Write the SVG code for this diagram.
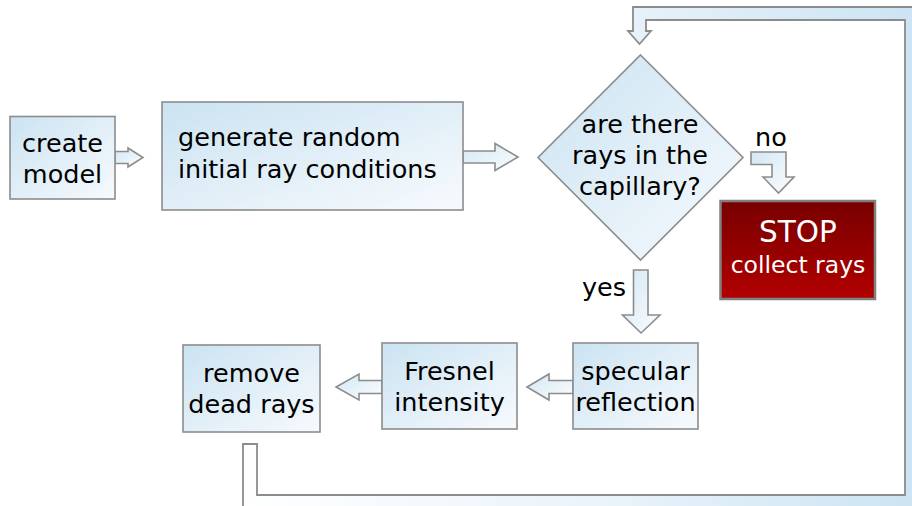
<svg xmlns="http://www.w3.org/2000/svg" width="912" height="506" viewBox="0 0 912 506">
<defs>
<linearGradient id="gBox" x1="0" y1="0" x2="1" y2="1">
<stop offset="0" stop-color="#cbe3f2"/>
<stop offset="1" stop-color="#f7fafd"/>
</linearGradient>
<linearGradient id="gArrow" x1="0" y1="0" x2="1" y2="1">
<stop offset="0" stop-color="#d3e7f4"/>
<stop offset="1" stop-color="#fbfdfe"/>
</linearGradient>
<linearGradient id="gLoop" gradientUnits="userSpaceOnUse" x1="243" y1="0" x2="912" y2="0">
<stop offset="0" stop-color="#ffffff"/>
<stop offset="0.55" stop-color="#e9f3fa"/>
<stop offset="1" stop-color="#cce4f3"/>
</linearGradient>
<linearGradient id="gStop" x1="0" y1="0" x2="0" y2="1">
<stop offset="0" stop-color="#780000"/>
<stop offset="1" stop-color="#b20000"/>
</linearGradient>
<style>
.box{fill:url(#gBox);stroke:#8c8c8c;stroke-width:1.6}
.arr{fill:url(#gArrow);stroke:#8c8c8c;stroke-width:1.6;stroke-linejoin:miter}
.loop{fill:url(#gLoop);stroke:#8c8c8c;stroke-width:1.8}
.t{font-family:"DejaVu Sans",sans-serif;font-size:25.5px;fill:#000}
.c{text-anchor:middle}
.stop{fill:url(#gStop);stroke:#808080;stroke-width:2.5}
.w{font-family:"DejaVu Sans",sans-serif;fill:#fff;text-anchor:middle}
</style>
</defs>
<g id="connectors">
<polygon class="loop" points="243,444 257,444 257,495 905,495 905,20 646,20 646,31 651,31 639.5,44 628,31 633,31 633,7 919,7 919,509 243,509"/>
<polygon class="arr" points="115,151.5 128,151.5 128,148 143,157.5 128,167 128,163.5 115,163.5"/>
<polygon class="arr" points="463,151 495,151 495,143.5 518,157 495,170.5 495,163 463,163"/>
<polygon class="arr" points="751,152 786,152 786,177 794,177 778.5,193 763,177 772,177 772,164.5 751,164.5"/>
<polygon class="arr" points="633.5,270 648,270 648,315 660,315 641,333 622.5,315 633.5,315"/>
<polygon class="arr" points="573,380.5 549,380.5 549,374 527,387 549,400 549,393.5 573,393.5"/>
<polygon class="arr" points="382,380.5 359,380.5 359,374 336,387 359,400 359,393.5 382,393.5"/>
<text class="t" x="755" y="146">no</text>
<text class="t" x="626" y="296" text-anchor="end">yes</text>
</g>
<g id="create-model">
<rect class="box" x="10" y="116.5" width="105" height="82.5"/>
<text class="t c" x="62.5" y="152">create</text>
<text class="t c" x="62.5" y="183">model</text>
</g>
<g id="generate">
<rect class="box" x="162" y="102" width="301" height="108"/>
<text class="t" x="178" y="146">generate random</text>
<text class="t" x="178" y="178">initial ray conditions</text>
</g>
<g id="decision">
<polygon class="box" points="640.5,55 743,157.5 640.5,260 538,157.5"/>
<text class="t c" x="640" y="132.5">are there</text>
<text class="t c" x="640" y="163.5">rays in the</text>
<text class="t c" x="640" y="194.5">capillary?</text>
</g>
<g id="stop">
<rect class="stop" x="720.5" y="201" width="154.5" height="98"/>
<text class="w" x="798" y="242" font-size="29.5">STOP</text>
<text class="w" x="798" y="273" font-size="23.5">collect rays</text>
</g>
<g id="specular">
<rect class="box" x="573" y="343" width="125" height="86"/>
<text class="t c" x="635.5" y="379.5">specular</text>
<text class="t c" x="635.5" y="410.5">reflection</text>
</g>
<g id="fresnel">
<rect class="box" x="382" y="343" width="135" height="86"/>
<text class="t c" x="449.5" y="379.5">Fresnel</text>
<text class="t c" x="449.5" y="410.5">intensity</text>
</g>
<g id="remove">
<rect class="box" x="183" y="345" width="137" height="87"/>
<text class="t c" x="251.5" y="381.5">remove</text>
<text class="t c" x="251.5" y="412.5">dead rays</text>
</g>
</svg>
